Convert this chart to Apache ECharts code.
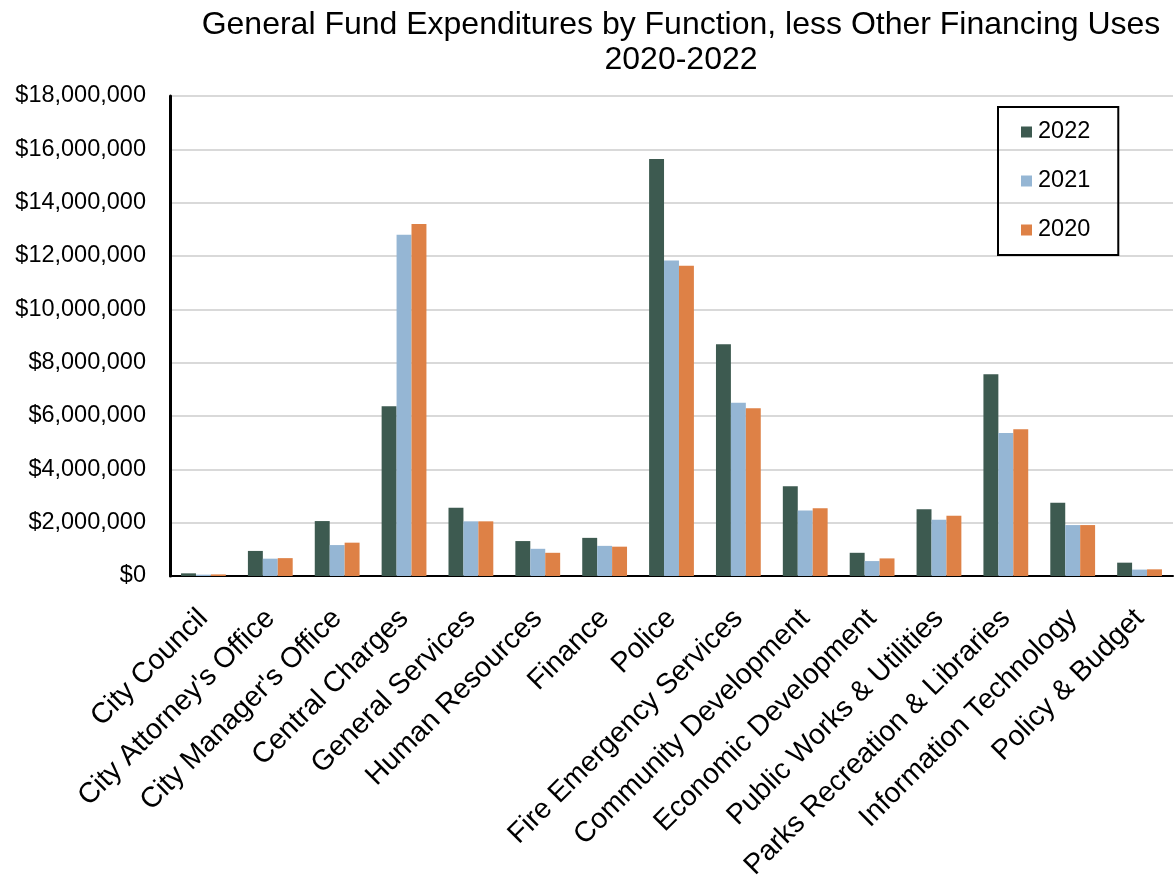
<!DOCTYPE html>
<html>
<head>
<meta charset="utf-8">
<script src="https://cdn.jsdelivr.net/npm/echarts@6/dist/echarts.min.js"></script>
<style>
html,body{margin:0;padding:0;background:#fff;}
#chart{width:1175px;height:878px;}
</style>
</head>
<body>
<div id="chart"></div>
<script>
// General Fund expenditures by function, in dollars
const categories = [
  'City Council', "City Attorney's Office", "City Manager's Office", 'Central Charges',
  'General Services', 'Human Resources', 'Finance', 'Police', 'Fire Emergency Services',
  'Community Development', 'Economic Development', 'Public Works & Utilities',
  'Parks Recreation & Libraries', 'Information Technology', 'Policy & Budget'
];
const values2022 = [100000, 940000, 2060000, 6370000, 2560000, 1310000, 1430000, 15640000, 8690000, 3370000, 870000, 2500000, 7570000, 2750000, 500000];
const values2021 = [50000, 650000, 1160000, 12800000, 2050000, 1020000, 1130000, 11830000, 6500000, 2460000, 560000, 2110000, 5360000, 1910000, 240000];
const values2020 = [60000, 670000, 1250000, 13200000, 2050000, 870000, 1100000, 11630000, 6290000, 2540000, 660000, 2260000, 5500000, 1910000, 250000];

const FONT = '"Liberation Sans", Arial, sans-serif';
const chart = echarts.init(document.getElementById('chart'));

function money(v) {
  return '$' + v.toLocaleString('en-US');
}

const mkSeries = (name, data, color) => ({
  name, type: 'bar', data,
  barGap: '0%', barCategoryGap: '33%',
  itemStyle: { color },
  emphasis: { disabled: true }
});

chart.setOption({
  animation: false,
  backgroundColor: '#fff',
  title: {
    text: 'General Fund Expenditures by Function, less Other Financing Uses\n2020-2022',
    left: 676, top: 3, textAlign: 'center',
    textStyle: { fontFamily: FONT, fontSize: 32, fontWeight: 'normal', color: '#000', lineHeight: 35 }
  },
  legend: {
    orient: 'vertical',
    left: 998, top: 107,
    padding: [13, 28, 13, 23],
    itemGap: 25,
    itemWidth: 11, itemHeight: 11,
    icon: 'rect',
    borderColor: '#000', borderWidth: 2,
    textStyle: { fontFamily: FONT, fontSize: 23.5, color: '#000', padding: [0, 0, 0, 1] },
    data: ['2022', '2021', '2020']
  },
  grid: { left: 170, right: 2, top: 96, bottom: 302, containLabel: false, outerBoundsMode: 'none' },
  xAxis: {
    type: 'category', data: categories,
    axisLine: { lineStyle: { color: '#000', width: 2 } },
    axisTick: { show: false },
    axisLabel: {
      rotate: 45, interval: 0, margin: 38,
      fontFamily: FONT, fontSize: 28.5, color: '#000'
    }
  },
  yAxis: {
    type: 'value', min: 0, max: 18000000, interval: 2000000,
    axisLine: { show: true, lineStyle: { color: '#000', width: 3 } },
    axisTick: { show: false },
    splitLine: { lineStyle: { color: '#d9d9d9', width: 2 } },
    axisLabel: { formatter: money, fontFamily: FONT, fontSize: 23.5, color: '#000', margin: 24 }
  },
  series: [
    mkSeries('2022', values2022, '#3d5a50'),
    mkSeries('2021', values2021, '#95b6d4'),
    mkSeries('2020', values2020, '#de8146')
  ]
});
</script>
</body>
</html>
